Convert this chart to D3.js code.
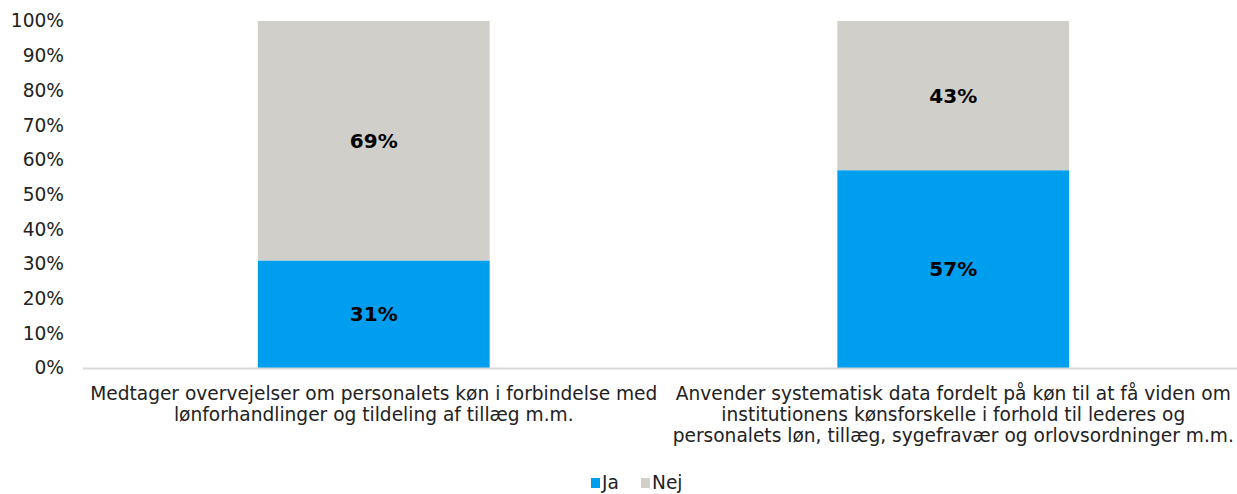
<!DOCTYPE html>
<html>
<head>
<meta charset="utf-8">
<script src="https://cdn.jsdelivr.net/npm/d3@7"></script>
<style>
  body { margin: 0; background: #fff; }
  text { font-family: "DejaVu Sans", Verdana, sans-serif; }
</style>
</head>
<body>
<div id="chart"></div>
<script>
// categories, wrapped the same way as the original
const categories = ["Medtager", "Anvender"]
const categoryLines = [
  ["Medtager overvejelser om personalets køn i forbindelse med",
   "lønforhandlinger og tildeling af tillæg m.m."],
  ["Anvender systematisk data fordelt på køn til at få viden om",
   "institutionens kønsforskelle i forhold til lederes og",
   "personalets løn, tillæg, sygefravær og orlovsordninger m.m."]
]
const seriesNames = ["Ja", "Nej"]
const ja = [0.31, 0.57]
const nej = [0.69, 0.43]
const yTicks = [0, 0.1, 0.2, 0.3, 0.4, 0.5, 0.6, 0.7, 0.8, 0.9, 1]

const colors = {Ja: "#009EEF", Nej: "#D0CFCA"}
const size = [1237, 494]
const margin = {top: 21, right: -6, bottom: 126, left: 84}
const fontSize = 18.6

const svg = d3.select("#chart").append("svg")
  .attr("width", size[0])
  .attr("height", size[1])

const x = d3.scaleBand()
  .domain(categories)
  .range([margin.left, size[0] - margin.right])
  .paddingInner(0.6)
  .paddingOuter(0.3)

const y = d3.scaleLinear()
  .domain([0, 1])
  .range([size[1] - margin.bottom, margin.top])

const rows = categories.map((c, i) => ({cat: c, Ja: ja[i], Nej: nej[i]}))
const stacked = d3.stack().keys(seriesNames)(rows)

// y axis: labels only
const yAxis = svg.append("g")
  .attr("transform", `translate(${margin.left - 17},0)`)
  .call(d3.axisLeft(y).tickValues(yTicks).tickFormat(d3.format(".0%")).tickSize(0))
yAxis.select(".domain").remove()
yAxis.selectAll("text")
  .attr("font-size", fontSize)
  .attr("fill", "#222")
  .attr("font-family", "DejaVu Sans, Verdana, sans-serif")

// bars
svg.append("g")
  .selectAll("g")
  .data(stacked)
  .join("g")
    .attr("fill", d => colors[d.key])
  .selectAll("rect")
  .data(d => d)
  .join("rect")
    .attr("x", d => x(d.data.cat))
    .attr("width", x.bandwidth())
    .attr("y", d => y(d[1]))
    .attr("height", d => y(d[0]) - y(d[1]))

// baseline
svg.append("line")
  .attr("x1", margin.left - 1)
  .attr("x2", size[0])
  .attr("y1", y(0) + 0.5)
  .attr("y2", y(0) + 0.5)
  .attr("stroke", "#D9D9D9")
  .attr("stroke-width", 2)

// value labels
svg.append("g")
  .selectAll("g")
  .data(stacked)
  .join("g")
  .selectAll("text")
  .data(d => d)
  .join("text")
    .attr("x", d => x(d.data.cat) + x.bandwidth() / 2)
    .attr("y", d => (y(d[0]) + y(d[1])) / 2)
    .attr("dy", "0.36em")
    .attr("text-anchor", "middle")
    .attr("font-size", 20)
    .attr("font-weight", "bold")
    .attr("fill", "#000")
    .text(d => d3.format(".0%")(d[1] - d[0]))

// category labels
const catG = svg.append("g")
  .selectAll("text")
  .data(categories)
  .join("text")
    .attr("text-anchor", "middle")
    .attr("font-size", fontSize)
    .attr("fill", "#222")
    .attr("x", d => x(d) + x.bandwidth() / 2)
    .attr("y", y(0) + 32)
catG.selectAll("tspan")
  .data((d, i) => categoryLines[i])
  .join("tspan")
    .attr("x", function() { return this.parentNode.getAttribute("x") })
    .attr("dy", (d, i) => i === 0 ? 0 : 21)
    .text(d => d)

// legend (nudged up so the descender of "j" stays inside the frame)
const legend = svg.append("g")
  .attr("transform", `translate(591,482)`)
const item = legend.selectAll("g")
  .data(seriesNames)
  .join("g")
    .attr("transform", (d, i) => `translate(${i * 50},0)`)
item.append("rect")
  .attr("y", -4)
  .attr("width", 9)
  .attr("height", 10)
  .attr("fill", d => colors[d])
item.append("text")
  .attr("x", 11)
  .attr("dy", "0.36em")
  .attr("font-size", fontSize)
  .attr("fill", "#222")
  .text(d => d)
</script>
</body>
</html>
